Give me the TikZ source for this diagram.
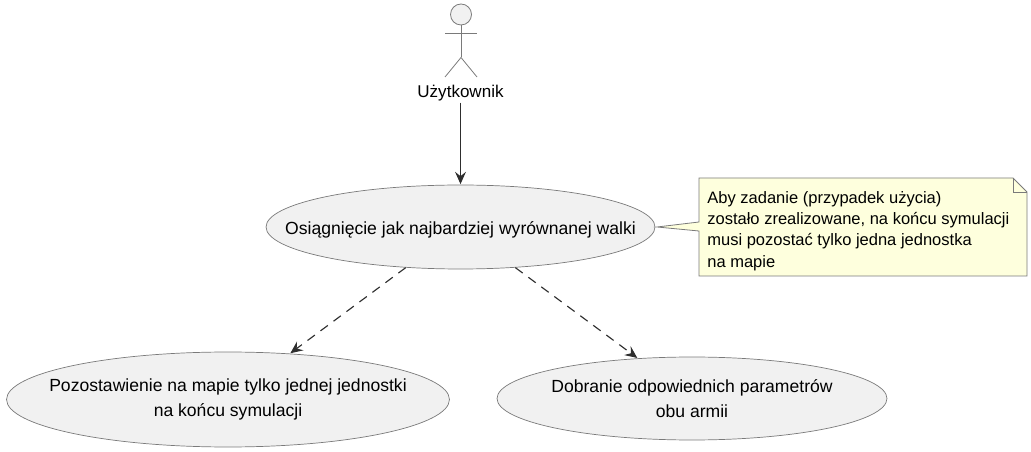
\documentclass[tikz,border=0pt]{standalone}
\usepackage{fontspec}
\setmainfont{Liberation Sans}
\usetikzlibrary{positioning}
\usetikzlibrary{shapes.geometric}
\usetikzlibrary{arrows.meta}
\definecolor{usecasefill}{HTML}{F1F1F1}
\definecolor{notefill}{HTML}{FEFFDD}
\definecolor{linegray}{HTML}{7A7A7A}
\definecolor{arrowdark}{HTML}{2E2E2E}
\tikzset{
  usecase/.style={ellipse,draw=linegray,fill=usecasefill,inner xsep=-3cm,inner ysep=-1cm,align=center,font=\fontsize{10}{13.9}\selectfont,execute at begin node={\rule{0pt}{10.5pt}}},
  actorline/.style={draw=linegray,line width=0.45pt},
  relation/.style={draw=arrowdark,line width=0.65pt,-{Stealth[length=7pt,width=6.2pt,inset=2.5pt]},shorten >=0.3pt},
}
\begin{document}
\begin{tikzpicture}[x=0.02cm,y=-0.02cm]
\useasboundingbox (0,0) rectangle (1031,452);

\coordinate (NeckTop) at (461,25);
\coordinate (Waist) at (461,57.5);
\coordinate (FootL) at (445,77);
\coordinate (FootR) at (477,77);
\coordinate (ArmL) at (445,33.5);
\coordinate (ArmR) at (477,33.5);

\draw[actorline,fill=usecasefill] (461,14.5) circle (10.5);% Head
\draw[actorline] (NeckTop) -- (Waist);% Body
\draw[actorline] (ArmL) -- (ArmR);% Arms
\draw[actorline] (FootL) -- (Waist) -- (FootR);% Legs
\node[font=\fontsize{9.7}{11}\selectfont,inner sep=0.5pt] (User) at (460.5,93.5) {Użytkownik};

\node[usecase,minimum width=7.78cm,minimum height=1.68cm] (Fight) at (460.5,227) {Osiągnięcie jak najbardziej wyrównanej walki};
\node[usecase,minimum width=8.86cm,minimum height=1.9cm] (Leave) at (228,399.5) {Pozostawienie na mapie tylko jednej jednostki\\na końcu symulacji};
\node[usecase,minimum width=7.8cm,minimum height=1.66cm] (Params) at (692,398.5) {Dobranie odpowiednich parametrów\\obu armii};

\coordinate (NoteTip) at (657,227);
\coordinate (NoteNW) at (699,178);
\coordinate (NoteFoldA) at (1013,178);
\coordinate (NoteFoldB) at (1027,192);
\coordinate (NoteFoldC) at (1013,192);
\coordinate (NoteSE) at (1027,276);
\coordinate (NoteSW) at (699,276);
\coordinate (NoteBaseA) at (699,231);
\coordinate (NoteBaseB) at (699,222);

\draw[actorline,fill=notefill] (NoteNW) -- (NoteFoldA) -- (NoteFoldB) -- (NoteSE) -- (NoteSW) -- (NoteBaseA) -- (NoteTip) -- (NoteBaseB) -- cycle;% Note body
\draw[actorline] (NoteFoldA) -- (NoteFoldC) -- (NoteFoldB);% Folded corner
\node[anchor=north west,inner sep=0pt,align=left,font=\fontsize{9.4}{12.1}\selectfont] (NoteText) at (707,191) {Aby zadanie (przypadek użycia)\\zostało zrealizowane, na końcu symulacji\\musi pozostać tylko jedna jednostka\\na mapie};

\draw[relation] (User) -- (Fight);
\draw[relation,dash pattern=on 5.2pt off 4pt] (Fight) -- (Leave);
\draw[relation,dash pattern=on 5.2pt off 4pt] (Fight) -- (Params);
\end{tikzpicture}
\end{document}
